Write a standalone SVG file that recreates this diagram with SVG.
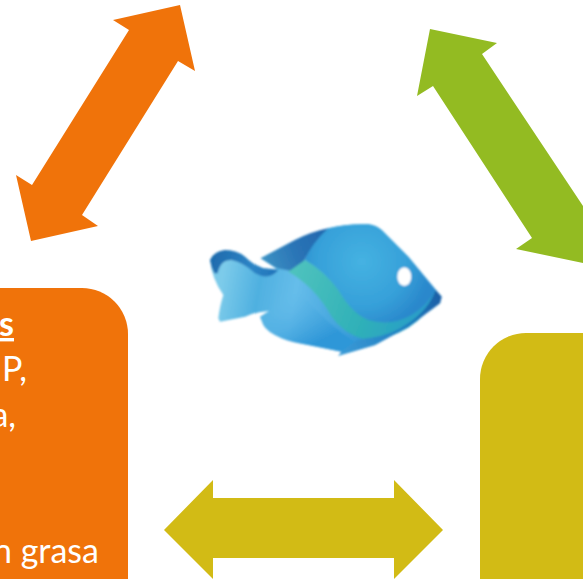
<svg xmlns="http://www.w3.org/2000/svg" width="583" height="579" viewBox="0 0 583 579">
<style>
.orange{fill:#f0730a}.green{fill:#93bb22}.yellow{fill:#d2bb15}
text{font-family:Lato,"Open Sans","Liberation Sans",sans-serif;font-size:34px;fill:#fff}
</style>
<defs>
<linearGradient id="base" gradientUnits="userSpaceOnUse" x1="60" y1="340" x2="500" y2="420"><stop offset="0" stop-color="#7ccbea"/><stop offset="0.25" stop-color="#4fb0e0"/><stop offset="0.5" stop-color="#66bdea"/><stop offset="1" stop-color="#2f96d6"/></linearGradient>
<linearGradient id="low" gradientUnits="userSpaceOnUse" x1="250" y1="270" x2="330" y2="430"><stop offset="0" stop-color="#66bdea" stop-opacity="0"/><stop offset="1" stop-color="#2f97d8"/></linearGradient>
<radialGradient id="head" gradientUnits="userSpaceOnUse" cx="500" cy="170" r="210"><stop offset="0" stop-color="#45b2e2"/><stop offset="0.65" stop-color="#36a0d9"/><stop offset="1" stop-color="#2a88cc"/></radialGradient>
<linearGradient id="tail" gradientUnits="userSpaceOnUse" x1="60" y1="150" x2="250" y2="210"><stop offset="0" stop-color="#1f6cae"/><stop offset="0.6" stop-color="#2d85c6"/><stop offset="1" stop-color="#1f72b8"/></linearGradient>
<linearGradient id="fin" gradientUnits="userSpaceOnUse" x1="200" y1="170" x2="400" y2="90"><stop offset="0" stop-color="#3d93c4"/><stop offset="0.5" stop-color="#2a74b6"/><stop offset="1" stop-color="#2267ae"/></linearGradient>
<linearGradient id="teal" gradientUnits="userSpaceOnUse" x1="300" y1="190" x2="680" y2="330"><stop offset="0" stop-color="#4ec2bd"/><stop offset="0.6" stop-color="#2fb0b8"/><stop offset="1" stop-color="#2a9ec8"/></linearGradient>
<linearGradient id="belly" gradientUnits="userSpaceOnUse" x1="440" y1="440" x2="740" y2="280"><stop offset="0" stop-color="#3a9ad6"/><stop offset="0.6" stop-color="#1f7cc0"/><stop offset="1" stop-color="#1a5fa6"/></linearGradient>
<filter id="soft" x="-5%" y="-5%" width="110%" height="110%"><feGaussianBlur stdDeviation="1.3"/></filter>
</defs>
<rect width="583" height="579" fill="#fff"/>
<g id="connectors">
<polygon class="orange" points="180,5 113,20 129,30 32,185 16,175 31,241 98,226 82,215 178,61 195,71"/>
<polygon class="green" points="430,29 497,43 482,54 583,206 583,263 516,249 532,238 433,86 417,96"/>
<polygon class="yellow" points="164,530 213,480 213,498 394,498 394,480 443,530 394,579 394,558 213,558 213,579"/>
</g>
<g id="node-fish" filter="url(#soft)">
<g transform="translate(195 205) scale(0.3333)">
<path fill="url(#base)" d="M45,165 Q55,140 90,135 Q125,135 150,155 Q175,180 205,190 L245,192 L197,160 L300,105 Q350,80 400,70 Q460,55 520,58 Q545,62 560,75 L640,155 L740,275 L735,295 L640,365 L540,420 L430,452 L440,440 L340,420 Q290,412 260,400 Q215,380 205,360 L195,335 L222,318 Q185,320 150,335 L75,350 L70,340 Q75,300 85,270 Q50,220 45,165Z"/>
<path fill="url(#low)" d="M195,335 L222,318 L250,290 L290,240 Q340,290 400,350 Q440,385 480,410 L440,440 L340,420 Q290,412 260,400 Q215,380 205,360Z"/>
<path fill="url(#tail)" d="M45,165 Q55,140 90,135 Q125,135 150,155 Q175,180 205,190 L250,195 Q222,228 180,205 Q145,172 110,165 Q75,165 68,205 L58,205 Q48,185 45,165Z"/>
<path fill="url(#fin)" d="M197,160 L300,105 Q350,80 400,70 Q350,125 325,170 L290,198 L245,190Z"/>
<path fill="url(#head)" d="M400,70 Q460,55 520,58 Q545,62 560,75 L640,155 L722,255 Q700,300 650,330 Q590,365 520,345 Q470,325 430,255 Q390,200 330,165 Q350,115 400,70Z"/>
<path fill="url(#teal)" d="M280,200 L330,165 Q390,200 430,255 Q470,325 520,345 Q590,365 650,330 Q700,300 722,255 L732,268 Q700,330 640,368 Q570,410 505,402 Q445,385 410,335 Q360,245 280,200Z"/>
<path fill="url(#belly)" d="M430,452 L440,440 L480,410 Q500,400 530,398 Q590,390 640,355 Q700,315 722,255 L740,275 L735,295 L640,365 L540,420Z"/>
<ellipse cx="628" cy="215" rx="21" ry="28" fill="#fff"/>
</g>
</g>
<g id="node-orange">
<path class="orange" d="M0,288 H82 A46,46 0 0 1 128,334 V579 H0Z"/>
<text x="14" y="336" text-anchor="end" font-weight="700" text-decoration="underline">s</text>
<text x="27" y="381" text-anchor="end">P,</text>
<text x="16" y="427" text-anchor="end">a,</text>
<text x="99" y="563" text-anchor="end">n grasa</text>
</g>
<g id="node-yellow">
<path class="yellow" d="M583,333 H526 A46,46 0 0 0 480,379 V579 H583Z"/>
</g>
</svg>
